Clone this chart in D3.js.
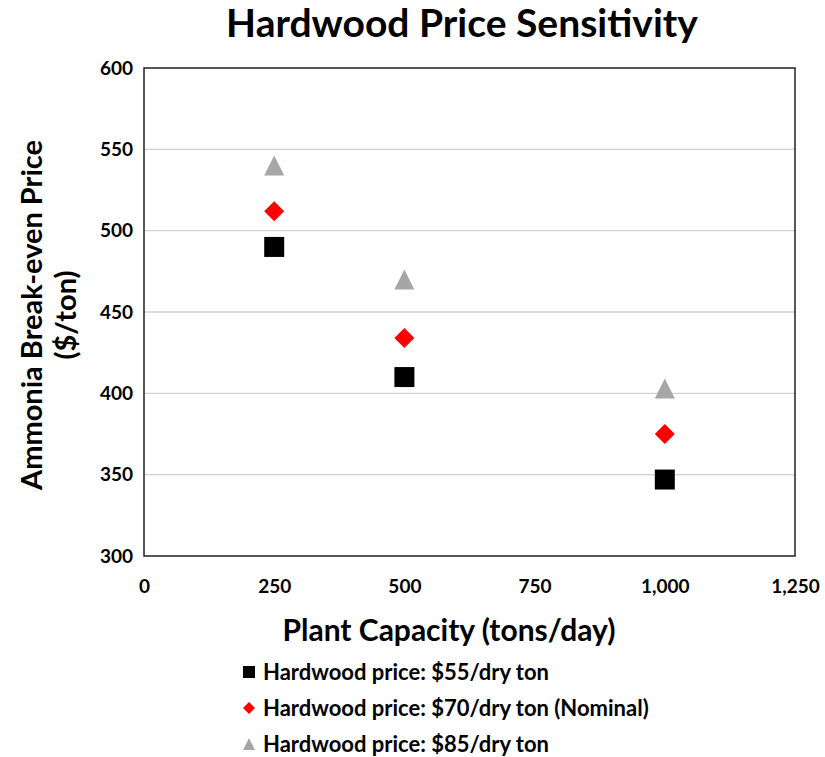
<!DOCTYPE html>
<html>
<head>
<meta charset="utf-8">
<script src="https://cdn.jsdelivr.net/npm/d3@7"></script>
<style>
  html, body { margin: 0; padding: 0; background: #fff; }
  svg { display: block; font-family: Lato, "Open Sans", sans-serif; font-weight: bold; }
</style>
</head>
<body>
<svg id="chart" width="825" height="757"></svg>
<script>
// Plant capacities (tons/day)
const capacities = [250, 500, 1000];
// Ammonia break-even price ($/ton) for each hardwood price
const price55 = [490, 410, 347];
const price70 = [512, 434, 375];
const price85 = [540, 470, 403];
const seriesNames = [
  "Hardwood price: $55/dry ton",
  "Hardwood price: $70/dry ton (Nominal)",
  "Hardwood price: $85/dry ton"
];
const xTicks = [0, 250, 500, 750, 1000, 1250];
const yTicks = [300, 350, 400, 450, 500, 550, 600];

// Marker shapes; "size" is the full width/height of the marker box in px
const squareMark = { draw(ctx, s) { const h = s / 2; ctx.rect(-h, -h, s, s); } };
const diamondMark = { draw(ctx, s) { const h = s / 2; ctx.moveTo(0, -h); ctx.lineTo(h, 0); ctx.lineTo(0, h); ctx.lineTo(-h, 0); ctx.closePath(); } };
const triangleMark = { draw(ctx, s) { const h = s / 2; ctx.moveTo(0, -h); ctx.lineTo(h, h); ctx.lineTo(-h, h); ctx.closePath(); } };

const series = [
  { name: seriesNames[0], values: price55, symbol: squareMark, color: "#000000" },
  { name: seriesNames[1], values: price70, symbol: diamondMark, color: "#ff0000" },
  { name: seriesNames[2], values: price85, symbol: triangleMark, color: "#a6a6a6" }
];

const svg = d3.select("#chart");
const plot = { left: 144, right: 795, top: 68, bottom: 556 };

const x = d3.scaleLinear().domain([0, 1250]).range([plot.left, plot.right]);
const y = d3.scaleLinear().domain([300, 600]).range([plot.bottom, plot.top]);

// Title
svg.append("text")
  .attr("x", 462).attr("y", 37)
  .attr("text-anchor", "middle")
  .attr("font-size", 39)
  .text("Hardwood Price Sensitivity");

// Horizontal gridlines
svg.append("g")
  .selectAll("line")
  .data(yTicks.slice(1, -1))
  .join("line")
  .attr("x1", plot.left).attr("x2", plot.right)
  .attr("y1", d => y(d)).attr("y2", d => y(d))
  .attr("stroke", "#d0d0d0").attr("stroke-width", 1.3);

// Plot border
svg.append("rect")
  .attr("x", plot.left).attr("y", plot.top)
  .attr("width", plot.right - plot.left).attr("height", plot.bottom - plot.top)
  .attr("fill", "none").attr("stroke", "#222").attr("stroke-width", 1.5);

// Y axis labels
const yAxis = d3.axisLeft(y).tickValues(yTicks).tickSize(0).tickPadding(11);
svg.append("g")
  .attr("transform", `translate(${plot.left},0)`)
  .call(yAxis)
  .call(g => g.select(".domain").remove())
  .selectAll("text")
  .attr("font-size", 19).attr("font-family", "Lato, sans-serif").attr("font-weight", "bold")
  .attr("fill", "#000");

// X axis labels
const xAxis = d3.axisBottom(x).tickValues(xTicks).tickSize(0).tickPadding(24)
  .tickFormat(d3.format(","));
svg.append("g")
  .attr("transform", `translate(0,${plot.bottom})`)
  .call(xAxis)
  .call(g => g.select(".domain").remove())
  .selectAll("text")
  .attr("font-size", 19).attr("font-family", "Lato, sans-serif").attr("font-weight", "bold")
  .attr("fill", "#000");

// Axis titles
svg.append("text")
  .attr("x", 449).attr("y", 641)
  .attr("text-anchor", "middle")
  .attr("font-size", 30)
  .text("Plant Capacity (tons/day)");

const yTitle = svg.append("text")
  .attr("transform", "translate(0,315) rotate(-90)")
  .attr("text-anchor", "middle")
  .attr("font-size", 29);
yTitle.append("tspan").attr("x", 0).attr("y", 42).text("Ammonia Break-even Price");
yTitle.append("tspan").attr("x", 0).attr("y", 76).text("($/ton)");

// Markers
series.forEach(s => {
  svg.append("g")
    .selectAll("path")
    .data(capacities.map((c, i) => ({ c, v: s.values[i] })))
    .join("path")
    .attr("transform", d => `translate(${x(d.c)},${y(d.v)})`)
    .attr("d", d3.symbol().type(s.symbol).size(20))
    .attr("fill", s.color);
});

// Legend
const legend = svg.append("g");
series.forEach((s, i) => {
  const ly = 672 + i * 36;
  legend.append("path")
    .attr("transform", `translate(249,${ly})`)
    .attr("d", d3.symbol().type(s.symbol).size(12))
    .attr("fill", s.color);
  legend.append("text")
    .attr("x", 263).attr("y", ly + 8)
    .attr("font-size", 22)
    .text(s.name);
});
</script>
</body>
</html>
